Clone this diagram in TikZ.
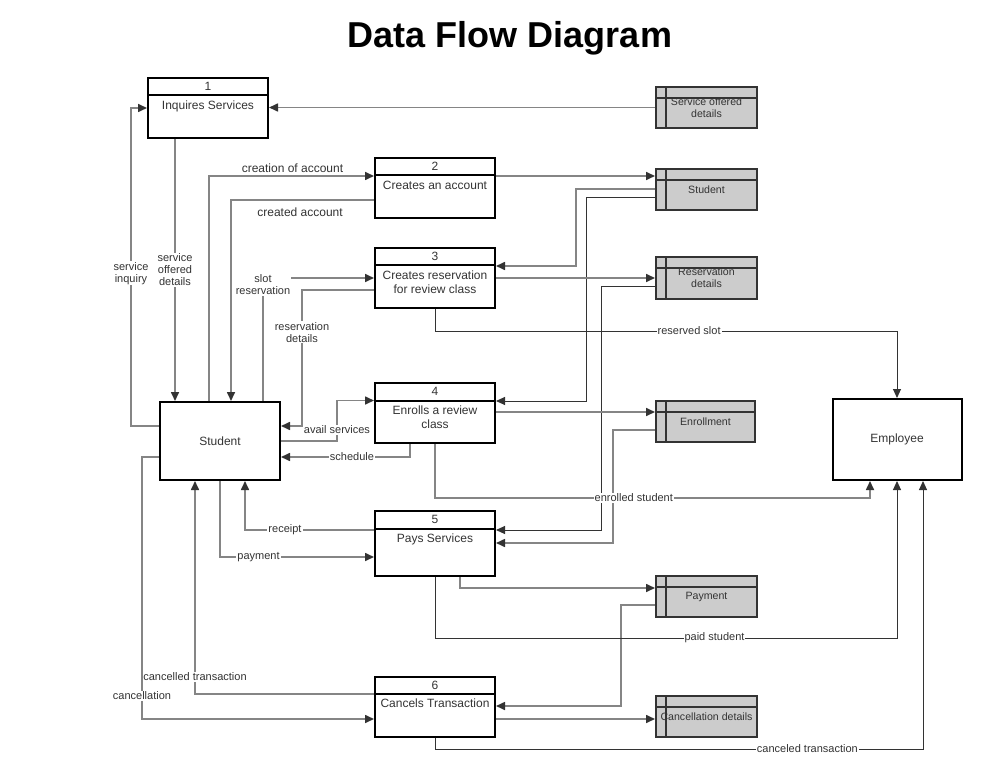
\documentclass[tikz,border=0pt]{standalone}
\usepackage{fontspec}
\setmainfont{Liberation Sans}
\usetikzlibrary{arrows.meta,positioning}
\definecolor{flowgray}{HTML}{858585}
\definecolor{darkline}{HTML}{333333}
\definecolor{storefill}{HTML}{CCCCCC}

\begin{document}
\begin{tikzpicture}[x=1pt, y=-1pt, >={Triangle[length=9pt,width=8pt,color=darkline]},
	process/.style={draw, line width=2pt, minimum width=120pt, minimum height=60pt, inner sep=0pt,
		path picture={\draw[line width=2pt] ([yshift=-17.5pt]path picture bounding box.north west) -- ([yshift=-17.5pt]path picture bounding box.north east);}},
	pnum/.style={anchor=north, minimum height=19pt, inner sep=0pt, font=\fontsize{12}{14}\selectfont, text=darkline},
	pname/.style={anchor=north, align=center, inner sep=0pt, font=\fontsize{12}{13.7}\selectfont, text=darkline},
	entity/.style={draw, line width=2pt, inner sep=0pt, font=\fontsize{12}{14}\selectfont, text=darkline},
	store/.style={draw=darkline, fill=storefill, line width=2pt, minimum width=101pt, minimum height=41pt, inner sep=0pt,
		align=center, font=\fontsize{10.6}{11.6}\selectfont, text=darkline,
		path picture={\draw[darkline, line width=2pt] ([xshift=10pt]path picture bounding box.north west) -- ([xshift=10pt]path picture bounding box.south west);
			\draw[darkline, line width=2pt] ([yshift=-11pt]path picture bounding box.north west) -- ([yshift=-11pt]path picture bounding box.north east);}},
	flow/.style={->, draw=flowgray, line width=1.6pt},
	dflow/.style={->, draw=darkline, line width=1pt},
	lbl/.style={fill=white, inner sep=1pt, align=center, font=\fontsize{11}{12}\selectfont, text=darkline},
	lblfree/.style={inner sep=1pt, font=\fontsize{12}{13}\selectfont, text=darkline}]

	\useasboundingbox (0,0) rectangle (981,775);

	\node[anchor=base, font=\fontsize{36}{40}\selectfont\bfseries] (title) at (510,47.7) {Data Flow Diagram};

	% processes
	\node[process] (P1) at (208,108) {};
	\node[pnum] (P1num) [below=0pt of P1.north] {1};
	\node[pname] (P1txt) [below=23.5pt of P1.north] {Inquires Services};
	\node[process] (P2) at (435,188) {};
	\node[pnum] (P2num) [below=0pt of P2.north] {2};
	\node[pname] (P2txt) [below=23.5pt of P2.north] {Creates an account};
	\node[process] (P3) at (435,278) {};
	\node[pnum] (P3num) [below=0pt of P3.north] {3};
	\node[pname] (P3txt) [below=23.5pt of P3.north] {Creates reservation\\for review class};
	\node[process] (P4) at (435,413) {};
	\node[pnum] (P4num) [below=0pt of P4.north] {4};
	\node[pname] (P4txt) [below=23.5pt of P4.north] {Enrolls a review\\class};
	\node[process, minimum height=65pt] (P5) at (435,543.5) {};
	\node[pnum] (P5num) [below=0pt of P5.north] {5};
	\node[pname] (P5txt) [below=23.5pt of P5.north] {Pays Services};
	\node[process] (P6) at (435,706.5) {};
	\node[pnum] (P6num) [below=0pt of P6.north] {6};
	\node[pname] (P6txt) [below=23.5pt of P6.north] {Cancels Transaction};

	% external entities
	\node[entity, minimum width=120pt, minimum height=78pt] (student) at (220,441) {Student};
	\node[entity, minimum width=129pt, minimum height=81pt] (employee) at (897,439.5) {Employee};

	% data stores
	\node[store] (D1) at (706.5,107.5) {Service offered\\details};
	\node[store] (D2) at (706.5,189.5) {Student};
	\node[store] (D3) at (706.5,278) {Reservation\\details};
	\node[store, minimum width=99pt] (D4) at (705.5,421.5) {Enrollment};
	\node[store] (D5) at (706.5,596.5) {Payment};
	\node[store] (D6) at (706.5,716.5) {Cancellation details};

	% flows between student and processes
	\draw[flow] (D1.west) -- (D1.west -| P1.east);
	\draw[flow] (student.west |- 0,426) -- (131,426) -- node[lbl, pos=0.48] (Linquiry) {service\\inquiry} (131,108) -- (P1.west);
	\draw[flow] (P1.south -| 175,0) -- node[lbl, pos=0.5] (Loffered) {service\\offered\\details} (student.north -| 175,0);
	\draw[flow] (student.north -| 209,0) -- (209,176) -- node[lblfree, pos=0.506, yshift=8pt] (Lcreation) {creation of account} (P2.west |- 0,176);
	\draw[flow] (P2.west |- 0,200) -- node[lblfree, pos=0.517, yshift=-12pt] (Lcreated) {created account} (231,200) -- (student.north -| 231,0);
	\draw[flow] (student.north -| 263,0) -- (263,278) node[lbl, yshift=-7pt] (Lslot) {slot\\reservation} -- (P3.west |- 0,278);
	\draw[flow] (P3.west |- 0,290) -- (302,290) -- node[lbl, pos=0.31] (Lresdet) {reservation\\details} (302,426) -- (student.east |- 0,426);
	\draw[flow] (student.east |- 0,441) -- (337,441) -- node[lbl, pos=0.27] (Lavail) {avail services} (337,400.5) -- (P4.west |- 0,400.5);
	\draw[flow] (P4.south -| 410,0) -- (410,457) -- node[lbl, pos=0.45] (Lschedule) {schedule} (student.east |- 0,457);
	\draw[flow] (P5.west |- 0,530) -- node[lbl, pos=0.69] (Lreceipt) {receipt} (245,530) -- (student.south -| 245,0);
	\draw[flow] (student.south -| 220,0) -- (220,557) -- node[lbl, pos=0.25] (Lpayment) {payment} (P5.west |- 0,557);
	\draw[flow] (P6.west |- 0,694) -- (195,694) -- node[lbl, pos=0.08] (Lcancelled) {cancelled transaction} (student.south -| 195,0);
	\draw[flow] (student.west |- 0,457) -- (142,457) -- node[lbl, pos=0.912] (Lcancel) {cancellation} (142,719) -- (P6.west |- 0,719);

	% flows between processes and data stores
	\draw[flow] (P2.east |- 0,176) -- (D2.west |- 0,176);
	\draw[flow] (D2.west |- 0,189) -- (576,189) -- (576,266) -- (P3.east |- 0,266);
	\draw[dflow] (D2.west |- 0,198) -- (586,198) -- (586,401) -- (P4.east |- 0,401);
	\draw[flow] (P3.east) -- (D3.west);
	\draw[dflow] (D3.west |- 0,286) -- (601,286) -- (601,530) -- (P5.east |- 0,530);
	\draw[flow] (P4.east |- 0,412) -- (D4.west |- 0,412);
	\draw[flow] (D4.west |- 0,430) -- (613,430) -- (613,543) -- (P5.east |- 0,543);
	\draw[flow] (P5.south -| 460,0) -- (460,588) -- (D5.west |- 0,588);
	\draw[flow] (D5.west |- 0,605) -- (621,605) -- (621,706) -- (P6.east |- 0,706);
	\draw[flow] (P6.east |- 0,719) -- (D6.west |- 0,719);

	% flows to employee
	\draw[dflow] (P3.south) -- (435,331) -- node[lbl, pos=0.55] (Lreserved) {reserved slot} (897,331) -- (employee.north);
	\draw[flow] (P4.south) -- (435,498) -- node[lbl, pos=0.457] (Lenrolled) {enrolled student} (870,498) -- (employee.south -| 870,0);
	\draw[dflow] (P5.south) -- (435,638) -- node[lbl, pos=0.605] (Lpaid) {paid student} (897,638) -- (employee.south);
	\draw[dflow] (P6.south) -- (435,749) -- node[lbl, pos=0.763] (Lcanceled) {canceled transaction} (923,749) -- (employee.south -| 923,0);
\end{tikzpicture}
\end{document}
